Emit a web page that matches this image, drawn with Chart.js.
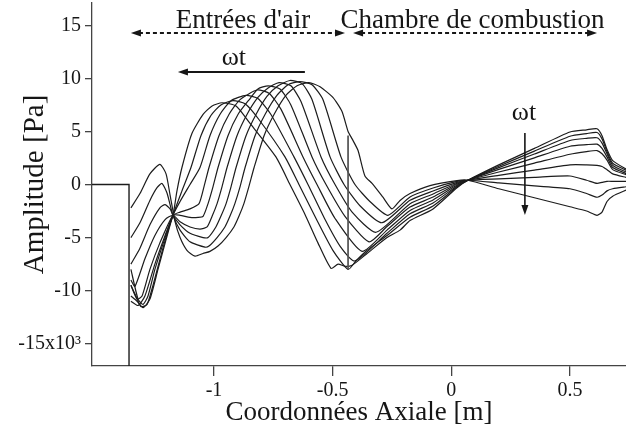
<!DOCTYPE html>
<html>
<head>
<meta charset="utf-8">
<script src="https://cdn.jsdelivr.net/npm/chart.js@4/dist/chart.umd.min.js"></script>
<style>
  html, body { margin: 0; padding: 0; background: #fff; }
</style>
</head>
<body>
<canvas id="graphe" width="626" height="430"></canvas>
<script>
// axes
const xTicks = [-1, -0.5, 0, 0.5];
const xLabels = ["-1", "-0.5", "0", "0.5"];
const yTicks = [-15, -10, -5, 0, 5, 10, 15];
const yLabels = ["-15x10³", "-10", "-5", "0", "5", "10", "15"];

// marche d'entree + interface entrees / chambre
const marche = [[-1.514, 0], [-1.358, 0], [-1.358, -17.1]];
const interfaceLigne = [[-0.435, 4.6], [-0.435, -8.0]];

// 9 instants (courbe0 = premier instant)
const courbe0 = [[-1.350,-2.2],[-1.312,-0.85],[-1.270,1.0],[-1.228,1.9],[-1.202,1.0],[-1.185,-1.0],[-1.164,-3.5],[-1.143,-5.0],[-1.114,-6.2],[-1.080,-6.75],[-1.046,-6.5],[-1.017,-6.3],[-0.983,-5.8],[-0.949,-5.0],[-0.916,-4.0],[-0.895,-3.0],[-0.874,-1.8],[-0.853,-0.2],[-0.831,1.6],[-0.789,4.6],[-0.747,6.6],[-0.697,8.4],[-0.650,9.3],[-0.600,9.6],[-0.553,9.2],[-0.499,8.2],[-0.461,6.9],[-0.435,5.0],[-0.418,4.3],[-0.393,3.2],[-0.364,0.8],[-0.334,0.1],[-0.288,-1.2],[-0.250,-2.3],[-0.216,-1.5],[-0.174,-0.85],[-0.090,-0.1],[0.024,0.37],[0.070,0.4],[0.2,-0.4],[0.35,-1.25],[0.5,-2.1],[0.57,-2.5],[0.614,-2.9],[0.635,-2.6],[0.656,-1.6],[0.68,-1.1],[0.74,-0.5]];
const courbe1 = [[-1.350,-5.0],[-1.312,-3.6],[-1.270,-1.5],[-1.240,-0.3],[-1.219,0.1],[-1.198,-0.8],[-1.173,-2.9],[-1.143,-4.3],[-1.101,-5.4],[-1.038,-5.9],[-1.021,-5.8],[-0.987,-5.0],[-0.954,-4.0],[-0.933,-3.0],[-0.912,-1.8],[-0.890,-0.2],[-0.869,1.6],[-0.827,4.6],[-0.785,6.6],[-0.735,8.4],[-0.688,9.4],[-0.638,9.7],[-0.587,9.4],[-0.541,8.0],[-0.465,2.6],[-0.406,0],[-0.343,-1.6],[-0.267,-2.9],[-0.174,-1.17],[-0.077,-0.33],[0.024,0.29],[0.070,0.4],[0.2,0.15],[0.35,-0.13],[0.5,-0.4],[0.57,-0.85],[0.614,-1.2],[0.635,-1.0],[0.656,-0.6],[0.68,-0.4],[0.74,-0.2]];
const courbe2 = [[-1.350,-7.5],[-1.312,-6.0],[-1.270,-3.8],[-1.228,-2.2],[-1.206,-1.9],[-1.185,-2.3],[-1.173,-2.9],[-1.143,-3.8],[-1.101,-4.6],[-1.046,-5.0],[-1.025,-5.0],[-0.992,-4.0],[-0.971,-3.0],[-0.949,-1.8],[-0.928,-0.2],[-0.907,1.6],[-0.865,4.6],[-0.823,6.6],[-0.777,8.3],[-0.730,9.3],[-0.680,9.8],[-0.629,9.5],[-0.587,8.0],[-0.511,2.6],[-0.452,0],[-0.385,-2.0],[-0.292,-3.6],[-0.174,-1.49],[-0.077,-0.61],[0.024,0.2],[0.070,0.4],[0.2,0.53],[0.35,0.67],[0.5,0.8],[0.57,0.4],[0.614,0.1],[0.635,0.2],[0.656,0.3],[0.68,0.3],[0.74,0.3]];
const courbe3 = [[-1.350,-9.0],[-1.333,-9.6],[-1.291,-7.0],[-1.249,-4.8],[-1.206,-3.3],[-1.173,-2.9],[-1.143,-3.5],[-1.101,-4.0],[-1.059,-4.2],[-1.029,-4.0],[-1.008,-3.0],[-0.987,-1.8],[-0.966,-0.2],[-0.945,1.6],[-0.903,4.6],[-0.861,6.6],[-0.815,8.2],[-0.772,9.1],[-0.726,9.6],[-0.676,9.3],[-0.633,7.8],[-0.549,2.6],[-0.490,0],[-0.418,-2.6],[-0.317,-4.5],[-0.174,-1.81],[-0.077,-0.89],[0.024,0.12],[0.070,0.4],[0.2,0.86],[0.35,1.36],[0.5,1.85],[0.57,1.85],[0.614,1.8],[0.635,1.7],[0.656,1.4],[0.68,1.0],[0.74,0.65]];
const courbe4 = [[-1.350,-9.5],[-1.324,-10.8],[-1.303,-10.5],[-1.270,-8.0],[-1.228,-5.5],[-1.173,-2.9],[-1.143,-2.9],[-1.101,-3.1],[-1.067,-3.1],[-1.046,-3.0],[-1.025,-1.8],[-1.004,-0.2],[-0.983,1.6],[-0.941,4.6],[-0.899,6.6],[-0.848,8.1],[-0.815,9.0],[-0.772,9.3],[-0.722,9.0],[-0.676,7.5],[-0.587,2.6],[-0.528,0],[-0.448,-3.0],[-0.347,-5.4],[-0.271,-3.96],[-0.174,-2.13],[-0.077,-1.18],[0.024,0.04],[0.070,0.4],[0.2,1.18],[0.35,2.01],[0.5,2.85],[0.57,3.1],[0.614,3.2],[0.635,2.9],[0.656,2.3],[0.68,1.4],[0.74,0.9]];
const courbe5 = [[-1.350,-8.0],[-1.320,-10.8],[-1.299,-11.3],[-1.278,-10.5],[-1.249,-8.0],[-1.206,-5.0],[-1.173,-2.9],[-1.143,-2.6],[-1.101,-2.3],[-1.063,-1.8],[-1.042,-0.2],[-1.021,1.6],[-0.979,4.6],[-0.937,6.6],[-0.890,8.0],[-0.819,8.9],[-0.768,8.6],[-0.718,7.1],[-0.625,2.6],[-0.566,0],[-0.490,-3.2],[-0.376,-6.3],[-0.271,-4.3],[-0.174,-2.44],[-0.077,-1.46],[0.024,-0.05],[0.070,0.4],[0.2,1.42],[0.35,2.51],[0.5,3.6],[0.57,3.75],[0.614,3.8],[0.635,3.4],[0.656,2.6],[0.68,1.6],[0.74,1.0]];
const courbe6 = [[-1.350,-9.5],[-1.329,-10.5],[-1.308,-11.5],[-1.282,-11.3],[-1.257,-9.5],[-1.215,-6.0],[-1.173,-2.9],[-1.143,-1.6],[-1.101,0.0],[-1.059,1.6],[-1.017,4.6],[-0.975,6.6],[-0.928,7.9],[-0.865,8.4],[-0.815,8.1],[-0.760,6.6],[-0.663,2.6],[-0.604,0],[-0.532,-3.3],[-0.469,-5.8],[-0.406,-7.2],[-0.271,-4.6],[-0.174,-2.76],[-0.077,-1.74],[0.024,-0.13],[0.070,0.4],[0.2,1.59],[0.35,2.87],[0.5,4.15],[0.57,4.35],[0.614,4.4],[0.635,3.9],[0.656,2.9],[0.68,1.8],[0.74,1.15]];
const courbe7 = [[-1.350,-10.5],[-1.324,-11.0],[-1.299,-11.6],[-1.270,-10.8],[-1.236,-8.0],[-1.202,-5.2],[-1.173,-2.9],[-1.135,-0.6],[-1.097,1.6],[-1.055,4.6],[-1.013,6.5],[-0.971,7.5],[-0.920,7.9],[-0.869,7.6],[-0.810,6.1],[-0.701,2.6],[-0.642,0],[-0.570,-3.2],[-0.499,-6.2],[-0.435,-8.0],[-0.402,-7.2],[-0.355,-6.2],[-0.271,-4.8],[-0.174,-3.08],[-0.077,-2.02],[0.024,-0.22],[0.070,0.4],[0.2,1.72],[0.35,3.14],[0.5,4.55],[0.57,4.8],[0.614,4.9],[0.635,4.3],[0.656,3.1],[0.68,2.0],[0.74,1.3]];
const courbe8 = [[-1.350,-11.0],[-1.320,-11.4],[-1.291,-10.5],[-1.249,-7.5],[-1.206,-4.8],[-1.173,-2.9],[-1.156,-0.6],[-1.135,1.6],[-1.093,4.8],[-1.046,6.6],[-1.008,7.4],[-0.966,7.7],[-0.907,7.4],[-0.853,5.9],[-0.739,2.6],[-0.680,0],[-0.617,-2.8],[-0.562,-5.5],[-0.507,-7.9],[-0.477,-7.5],[-0.448,-7.7],[-0.418,-7.6],[-0.355,-6.5],[-0.271,-5.0],[-0.216,-4.3],[-0.174,-3.4],[-0.077,-2.3],[0.024,-0.3],[0.070,0.4],[0.2,1.85],[0.35,3.4],[0.5,4.95],[0.57,5.15],[0.614,5.25],[0.635,4.6],[0.656,3.3],[0.68,2.25],[0.74,1.4]];
const courbes = [courbe0, courbe1, courbe2, courbe3, courbe4, courbe5, courbe6, courbe7, courbe8];

const serif = "'Liberation Serif', 'Times New Roman', serif";
const noir = "#161616";

// annotations (coordonnees en unites des axes)
const zones = [
  { texte: "Entrées d'air", centre: -0.878, debut: -1.35, fin: -0.448 },
  { texte: "Chambre de combustion", centre: 0.089, debut: -0.414, fin: 0.614 }
];
const zoneTexteY = 14.74;
const zoneFlecheY = 14.27;

function pointe(ctx, x, y, dx, dy) {
  // triangle plein, pointe en (x, y), direction (dx, dy)
  const L = 10, W = 3.5;
  ctx.beginPath();
  ctx.moveTo(x, y);
  ctx.lineTo(x - dx * L - dy * W, y - dy * L + dx * W);
  ctx.lineTo(x - dx * L + dy * W, y - dy * L - dx * W);
  ctx.closePath();
  ctx.fill();
}

const annotations = {
  id: "annotations",
  afterDatasetsDraw(chart) {
    const ctx = chart.ctx;
    const px = v => chart.scales.x.getPixelForValue(v);
    const py = v => chart.scales.y.getPixelForValue(v);
    ctx.save();
    ctx.strokeStyle = noir;
    ctx.fillStyle = noir;
    ctx.textAlign = "center";
    ctx.textBaseline = "alphabetic";
    ctx.font = "27px " + serif;

    // zones avec fleches pointillees
    zones.forEach(z => {
      ctx.fillText(z.texte, px(z.centre), py(zoneTexteY));
      ctx.lineWidth = 2;
      ctx.setLineDash([4, 3]);
      ctx.beginPath();
      ctx.moveTo(px(z.debut) + 8, py(zoneFlecheY));
      ctx.lineTo(px(z.fin) - 8, py(zoneFlecheY));
      ctx.stroke();
      ctx.setLineDash([]);
      pointe(ctx, px(z.debut), py(zoneFlecheY), -1, 0);
      pointe(ctx, px(z.fin), py(zoneFlecheY), 1, 0);
    });

    // omega t : propagation vers l'amont
    ctx.font = "26px " + serif;
    ctx.fillText("ωt", px(-0.916), py(11.26));
    ctx.lineWidth = 2;
    ctx.beginPath();
    ctx.moveTo(px(-0.617), py(10.6));
    ctx.lineTo(px(-1.152) + 8, py(10.6));
    ctx.stroke();
    pointe(ctx, px(-1.152), py(10.6), -1, 0);

    // omega t : dans la chambre
    ctx.fillText("ωt", px(0.306), py(6.08));
    ctx.lineWidth = 1.6;
    ctx.beginPath();
    ctx.moveTo(px(0.31), py(4.85));
    ctx.lineTo(px(0.31), py(-2.87) - 8);
    ctx.stroke();
    pointe(ctx, px(0.31), py(-2.87), 0, 1);

    ctx.restore();
  }
};

const datasets = [
  { data: marche, tension: 0, borderWidth: 1.4 },
  { data: interfaceLigne, tension: 0, borderColor: "#555", borderWidth: 1 }
].concat(courbes.map(c => ({ data: c })));

datasets.forEach(d => {
  d.borderColor = d.borderColor || "#1c1c1c";
  d.borderWidth = d.borderWidth || 1.2;
  d.pointRadius = 0;
  d.fill = false;
  if (d.tension === undefined) d.tension = 0.2;
});

new Chart(document.getElementById("graphe"), {
  type: "line",
  data: { datasets: datasets },
  options: {
    responsive: false,
    animation: false,
    layout: { padding: { top: 3, right: 0, bottom: 0, left: 0 } },
    plugins: { legend: { display: false }, tooltip: { enabled: false } },
    scales: {
      x: {
        type: "linear",
        min: -1.514,
        max: 0.736,
        afterFit(s) { s.height = 64; s.paddingLeft = 0; s.paddingRight = 0; },
        afterBuildTicks(s) { s.ticks = xTicks.map(v => ({ value: v })); },
        ticks: {
          callback: v => xLabels[xTicks.indexOf(v)],
          font: { family: serif, size: 20 },
          color: noir,
          padding: 3,
          maxRotation: 0,
          autoSkip: false
        },
        grid: { drawOnChartArea: false, tickLength: 10, color: "#444", lineWidth: 1.3 },
        border: { display: true, color: "#444", width: 1.3 },
        title: {
          display: true,
          text: "Coordonnées Axiale [m]",
          font: { family: serif, size: 27 },
          color: noir,
          padding: { top: 0, bottom: 1 }
        }
      },
      y: {
        type: "linear",
        min: -17.1,
        max: 17.1,
        afterFit(s) { s.width = 92; s.paddingTop = 0; s.paddingBottom = 0; },
        afterBuildTicks(s) { s.ticks = yTicks.map(v => ({ value: v })); },
        ticks: {
          callback: v => yLabels[yTicks.indexOf(v)],
          font: { family: serif, size: 20 },
          color: noir,
          padding: 4
        },
        grid: { drawOnChartArea: false, tickLength: 7, color: "#444", lineWidth: 1.3 },
        border: { display: true, color: "#444", width: 1.3 },
        title: {
          display: true,
          text: "Amplitude [Pa]",
          font: { family: serif, size: 29 },
          color: noir,
          padding: { top: 18, bottom: 0 }
        }
      }
    }
  },
  plugins: [annotations]
});
</script>
</body>
</html>
